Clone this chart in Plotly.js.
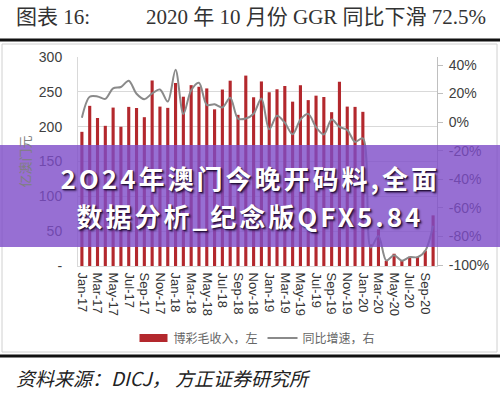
<!DOCTYPE html>
<html>
<head>
<meta charset="utf-8">
<script src="https://cdn.plot.ly/plotly-3.0.1.min.js"></script>
<style>
html,body{margin:0;padding:0;background:#fff;}
#chart{width:500px;height:393px;}
</style>
</head>
<body>
<div id="chart"></div>
<script>
// ---- data ----
const months = [
  "Jan-17","Feb-17","Mar-17","Apr-17","May-17","Jun-17","Jul-17","Aug-17","Sep-17","Oct-17","Nov-17","Dec-17",
  "Jan-18","Feb-18","Mar-18","Apr-18","May-18","Jun-18","Jul-18","Aug-18","Sep-18","Oct-18","Nov-18","Dec-18",
  "Jan-19","Feb-19","Mar-19","Apr-19","May-19","Jun-19","Jul-19","Aug-19","Sep-19","Oct-19","Nov-19","Dec-19",
  "Jan-20","Feb-20","Mar-20","Apr-20","May-20","Jun-20","Jul-20","Aug-20","Sep-20","Oct-20"
];
// 博彩毛收入 (亿澳门元)
const ggr = [
  192.6,229.9,212.3,201.2,227.4,199.9,228.4,226.8,213.6,266.3,228.8,227.0,
  262.6,243.0,259.6,257.3,254.9,224.9,253.3,266.0,217.0,273.3,242.2,264.9,
  249.4,253.7,258.4,235.9,259.5,238.1,244.5,242.6,220.8,264.4,228.8,228.4,
  221.3,31.0,52.6,7.5,17.6,7.2,13.4,13.3,22.1,72.7
];
// 同比增速 (%)
const yoy = [
  3.1,17.8,18.0,16.3,23.7,24.6,29.0,19.9,16.1,20.1,22.9,14.4,
  36.6,5.7,22.3,27.6,12.1,12.5,10.3,17.1,2.5,2.6,5.9,16.6,
  -5.0,4.4,-0.4,-8.5,1.7,5.8,-3.5,-8.6,1.8,-3.3,-5.5,-13.8,
  -11.3,-87.8,-79.7,-96.8,-93.2,-97.0,-94.5,-94.5,-90.0,-72.5
];
const leftTicks = [0,50,100,150,200,250,300];
const leftTickText = ["-","50","100","150","200","250","300"];
const rightTicks = [-100,-80,-60,-40,-20,0,20,40];
const rightTickText = ["-100%","-80%","-60%","-40%","-20%","0%","20%","40%"];
const xTickLabels = months.filter((m,i)=>i%2===0);
const seriesNames = ["博彩毛收入，左","同比增速，右"];
const titleLeft = "图表 16:";
const titleRight = "2020 年 10 月份 GGR 同比下滑 72.5%";
const sourceText = "<i>资料来源：DICJ， 方正证券研究所</i>";
const bannerLines = ["2O24年澳门今晚开码料,全面","数据分析_纪念版QFX5.84"];

// ---- layout helpers (pixel -> paper) ----
const L=78, R=437, T=57, B=266;
const px = x => (x-L)/(R-L);
const py = y => (B-y)/(B-T);

const sans = "Liberation Sans, Arial, sans-serif";
const cjk = "Noto Sans CJK SC, sans-serif";
const serif = "Liberation Serif, Noto Sans CJK SC, serif";

const traces = [
  {
    type:"bar", x:months, y:ggr, name:seriesNames[0],
    marker:{color:"#B3282D"}, yaxis:"y", hoverinfo:"x+y"
  },
  {
    type:"scatter", mode:"lines", x:months, y:yoy, name:seriesNames[1],
    yaxis:"y2", line:{color:"#8a8a8a", width:2, shape:"spline", smoothing:0.9}
  }
];

function bannerAnn(text, yPix){
  return {text:"<b>"+text+"</b>", x:px(250), y:py(yPix), xref:"paper", yref:"paper",
          showarrow:false, xanchor:"center", yanchor:"middle",
          font:{family:cjk, size:26, color:"#ffffff"}};
}

const layout = {
  width:500, height:393,
  margin:{l:L, r:500-R, t:T, b:393-B, pad:0},
  paper_bgcolor:"#ffffff", plot_bgcolor:"#ffffff",
  bargap:0.6,
  showlegend:true,
  legend:{orientation:"h", x:px(257), xanchor:"center", y:py(338), yanchor:"middle",
          font:{family:cjk, size:12, color:"#666666"}, itemwidth:30,
          bgcolor:"rgba(0,0,0,0)"},
  xaxis:{
    type:"category", tickvals:xTickLabels, ticktext:xTickLabels, tickangle:90,
    tickfont:{family:sans, size:13, color:"#333333"},
    showline:true, linecolor:"#d9d9d9", linewidth:1, showgrid:false, ticks:"",
    ticklabelstandoff:3, fixedrange:true
  },
  yaxis:{
    range:[0,300], tickvals:leftTicks, ticktext:leftTickText,
    tickfont:{family:sans, size:14, color:"#404040"},
    showgrid:true, gridcolor:"#d9d9d9", gridwidth:1, zeroline:false,
    showline:true, linecolor:"#d9d9d9", ticks:"", ticklabelstandoff:12,
    title:{text:"亿澳门元", font:{family:cjk, size:13, color:"#7f7f7f"}, standoff:5}
  },
  yaxis2:{
    overlaying:"y", side:"right", range:[-100.7,45.6],
    tickvals:rightTicks, ticktext:rightTickText,
    tickfont:{family:sans, size:14, color:"#404040"},
    showgrid:false, zeroline:false, showline:true, linecolor:"#bfbfbf",
    ticks:"outside", ticklen:5, tickcolor:"#bfbfbf", ticklabelstandoff:3
  },
  shapes:[
    {type:"line", xref:"paper", yref:"paper", x0:px(0), x1:px(500), y0:py(40), y1:py(40),
     line:{color:"#111111", width:3}},
    {type:"rect", xref:"paper", yref:"paper", x0:px(2), x1:px(497), y0:py(44), y1:py(352),
     line:{color:"#d0d0d0", width:1}},
    {type:"line", xref:"paper", yref:"paper", x0:px(0), x1:px(500), y0:py(356), y1:py(356),
     line:{color:"#111111", width:3}},
    {type:"rect", xref:"paper", yref:"paper", x0:px(0), x1:px(500), y0:py(145), y1:py(247),
     fillcolor:"rgba(125,75,200,0.8)", line:{width:0}, layer:"above"}
  ],
  annotations:[
    {text:titleLeft, x:px(14), y:py(17), xref:"paper", yref:"paper", showarrow:false,
     xanchor:"left", yanchor:"middle", font:{family:serif, size:21, color:"#333333"}},
    {text:titleRight, x:px(488), y:py(17), xref:"paper", yref:"paper", showarrow:false,
     xanchor:"right", yanchor:"middle", font:{family:serif, size:21, color:"#333333"}},
    {text:sourceText, x:px(14), y:py(377), xref:"paper", yref:"paper", showarrow:false,
     xanchor:"left", yanchor:"middle", font:{family:cjk, size:19, color:"#222222"}},
    bannerAnn(bannerLines[0], 177),
    bannerAnn(bannerLines[1], 215)
  ]
};

Plotly.newPlot("chart", traces, layout, {displayModeBar:false, staticPlot:true}).then(gd=>{
  document.querySelectorAll(".annotation-text").forEach(t=>{
    const s = t.textContent;
    if (s.indexOf("QFX5.84")>=0 || s.indexOf("全面")>=0) {
      t.style.letterSpacing = "3px";
      t.style.textShadow = "1px 1px 1px rgba(30,10,50,0.9), 2px 2px 2px rgba(30,10,50,0.6)";
    }
  });
  // widen the bar legend swatch to a flat rectangle like the reference
  const pts = document.querySelectorAll(".legend .traces .legendpoints path");
  if (pts.length) {
    pts[0].setAttribute("d", "M-14,-4h28v8h-28z");
  }
});
</script>
</body>
</html>
